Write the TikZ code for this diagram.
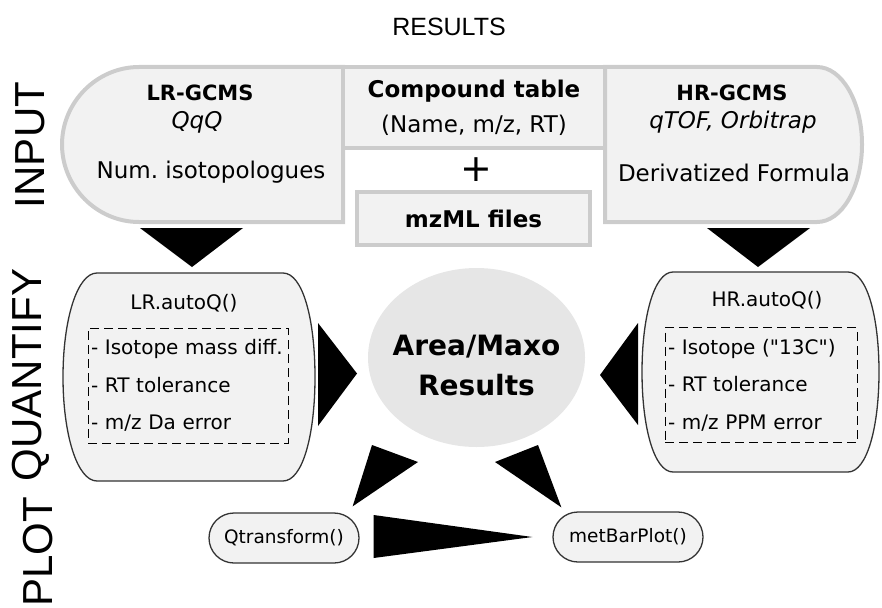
\documentclass[tikz,border=0pt]{standalone}
\usepackage{fontspec}
\setmainfont{DejaVu Sans}
\newfontfamily\rawfont{DejaVu Sans}
\newfontfamily\labelfont{Liberation Sans}
\usetikzlibrary{shapes.geometric,calc}
\definecolor{boxfill}{HTML}{F2F2F2}
\definecolor{boxline}{HTML}{CCCCCC}
\definecolor{resfill}{HTML}{E6E6E6}
\definecolor{qline}{HTML}{333333}
\newcommand{\pxsize}[1]{\fontsize{#1}{#1}\selectfont}
\frenchspacing

\begin{document}
\begin{tikzpicture}[x=1pt,y=-1pt]
\tikzset{
    inbox/.style={%
        draw=boxline, line width=4pt,
        fill=boxfill
        },
    qbox/.style={%
        draw=qline, line width=1.3pt,
        fill=boxfill
        },
    parbox/.style={%
        draw=black, line width=1pt,
        dash pattern=on 9pt off 5pt,
        align=left, inner xsep=3pt, inner ysep=0pt,
        font=\fontsize{20}{37.5}\selectfont,
        text width=194pt, minimum height=115pt
        },
    fnbox/.style={%
        qbox, rectangle,
        rounded corners=25pt,
        minimum width=150pt,
        minimum height=50pt,
        font=\pxsize{18.5}
        },
    hold/.style={inner sep=0pt, outer sep=0pt},
    stage/.style={font=\labelfont\pxsize{42}, rotate=90},
    wedge/.style={fill=black},
}
\useasboundingbox (0,0) rectangle (882,607);
%%%STAGES
\node[font=\labelfont\pxsize{25}] (results) at (449,27) {RESULTS};
\node[stage] (input) at (30,145) {INPUT};
\node[stage] (quantify) at (31,375) {QUANTIFY};
\node[stage] (plot) at (38,552) {PLOT};
%%%INPUT
\draw[inbox] (343,67) -- (139,67) .. controls (97,67) and (62,102) .. (62,144.5)
    .. controls (62,187) and (97,222) .. (139,222) -- (343,222) -- cycle;
\draw[inbox] (605,67) -- (817,67) .. controls (842,67) and (862,102) .. (862,144.5)
    .. controls (862,187) and (842,222) .. (817,222) -- (605,222) -- cycle;
\node[hold, minimum width=281pt, minimum height=155pt] (lrin) at (202.5,144.5) {};
\node[hold, minimum width=257pt, minimum height=155pt] (hrin) at (733.5,144.5) {};
\node[inbox, minimum width=262pt, minimum height=81pt, inner sep=0pt, align=center,
    font=\fontsize{23}{35}\selectfont] (cmpd) at (474,107.5)
    {\textbf{Compound table}\\(Name, m/z, RT)};
\node[font=\pxsize{38}] (plus) at (476,170) {+};
\node[inbox, minimum width=233pt, minimum height=53pt, font=\bfseries\pxsize{23}]
    (mzml) at (473.5,218.5) {mzML files};
\node[font=\bfseries\pxsize{21}] (lrname) at (200,93) {LR-GCMS};
\node[font=\itshape\pxsize{23}] (lrtype) at (197,122) {QqQ};
\node[font=\pxsize{23}] (lrinfo) at (211,172) {Num. isotopologues};
\node[font=\bfseries\pxsize{21}] (hrname) at (732,93) {HR-GCMS};
\node[font=\itshape\pxsize{23}] (hrtype) at (733,122) {qTOF, Orbitrap};
\node[font=\pxsize{23}] (hrinfo) at (734,173) {Derivatized Formula};
%%%QUANTIFY
\draw[qbox] (97,273) -- (283,273) .. controls (303,273) and (315,320) .. (315,377)
    .. controls (315,434) and (303,481) .. (283,481) -- (97,481)
    .. controls (77,481) and (63,434) .. (63,377)
    .. controls (63,320) and (77,273) .. (97,273) -- cycle;
\draw[qbox] (673,272) -- (848,272) .. controls (867,272) and (879,317) .. (879,372)
    .. controls (879,427) and (867,472) .. (848,472) -- (673,472)
    .. controls (654,472) and (642,427) .. (642,372)
    .. controls (642,317) and (654,272) .. (673,272) -- cycle;
\node[hold, minimum width=252pt, minimum height=208pt] (lrq) at (189,377) {};
\node[hold, minimum width=237pt, minimum height=200pt] (hrq) at (760.5,372) {};
\node[font=\pxsize{20}] (lrfun) at (184,303) {LR.autoQ()};
\node[parbox] (lrpar) at (188,385.5)
    {- Isotope mass diff.\\- RT tolerance\\- m/z Da error};
\node[font=\pxsize{20}] (hrfun) at (767,300) {HR.autoQ()};
\node[parbox, text width=186pt] (hrpar) at (761,385)
    {- Isotope ({\rawfont"}13C{\rawfont"})\\- RT tolerance\\- m/z PPM error};
%%%RESULTS
\node[ellipse, fill=resfill, hold, minimum width=217pt, minimum height=179pt]
    (res) at (476.5,357.5) {};
\node[align=center, font=\bfseries\fontsize{28}{40}\selectfont] (restxt)
    at (476.5,365) {Area/Maxo\\Results};
%%%PLOT
\node[fnbox] (qtr) at (284,538) {Qtransform()};
\node[fnbox] (mbp) at (628,537) {metBarPlot()};
%%%WEDGES
\fill[wedge] ($(lrin.south)+(-62.5,6)$) -- ($(lrin.south)+(40.5,6)$) -- ($(lrq.north)+(3,-6)$) -- cycle;
\fill[wedge] ($(hrin.south)+(-26.5,6)$) -- ($(hrin.south)+(76.5,6)$) -- ($(hrq.north)+(-2.5,-5)$) -- cycle;
\fill[wedge] ($(lrq.east)+(3,-54)$) -- ($(lrq.east)+(3,49)$) -- ($(res.west)+(-11,16)$) -- cycle;
\fill[wedge] ($(hrq.west)+(-4,-49)$) -- ($(hrq.west)+(-4,53)$) -- ($(res.east)+(15,17.5)$) -- cycle;
\fill[wedge] ($(res)+(-104.5,87.5)$) -- ($(res)+(-58.5,104.5)$) -- ($(qtr.north east)+(-7,-6)$) -- cycle;
\fill[wedge] ($(res)+(18.5,104.5)$) -- ($(res)+(61.5,87.5)$) -- ($(mbp.north west)+(9,-4)$) -- cycle;
\fill[wedge] ($(qtr.east)+(14,-23)$) -- ($(qtr.east)+(14,20)$) -- ($(mbp.west)+(-20,0)$) -- cycle;
\end{tikzpicture}
\end{document}
